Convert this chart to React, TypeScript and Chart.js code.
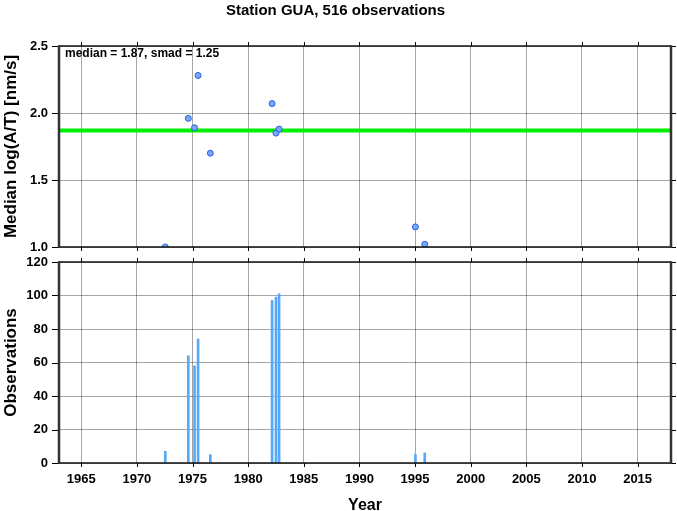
import React, { useEffect, useRef } from 'react';
import { Chart, registerables } from 'chart.js';

Chart.register(...registerables);

const chartTitle = 'Station GUA, 516 observations';
const medianLabel = 'median = 1.87, smad = 1.25';
const yTitleTop = 'Median log(A/T) [nm/s]';
const yTitleBottom = 'Observations';
const xTitle = 'Year';

const years = [1972.55, 1974.62, 1975.18, 1975.5, 1976.6, 1982.15, 1982.5, 1982.78, 1995.03, 1995.87];
const medians = [1.0, 1.96, 1.89, 2.28, 1.7, 2.07, 1.85, 1.88, 1.15, 1.02];
const counts = [7, 64, 58, 74, 5, 97, 99, 101, 5, 6];
const medianValue = 1.87;

const xTicks = [1965, 1970, 1975, 1980, 1985, 1990, 1995, 2000, 2005, 2010, 2015];
const medTicks = [1.0, 1.5, 2.0, 2.5];
const countTicks = [0, 20, 40, 60, 80, 100, 120];
const X_MIN = 1963;
const X_MAX = 2018;

const FONT = '"Liberation Sans", Helvetica, Arial, sans-serif';
const GRID = 'rgba(0,0,0,0.35)';

function makeFramePlugin(tickValsX: number[], tickValsY: number[], withText: boolean) {
  return {
    id: 'frame' + (withText ? 'Top' : 'Bottom'),
    afterDatasetsDraw(chart: any) {
      const { ctx, chartArea } = chart;
      const { left, right, top, bottom } = chartArea;
      const xs = chart.scales.x;
      const ys = chart.scales.y;
      const line = (x1: number, y1: number, x2: number, y2: number) => {
        ctx.beginPath();
        ctx.moveTo(x1, y1);
        ctx.lineTo(x2, y2);
        ctx.stroke();
      };
      ctx.save();
      ctx.strokeStyle = '#000';
      ctx.lineWidth = 1;
      for (const v of tickValsX) {
        const px = Math.round(xs.getPixelForValue(v)) + 0.5;
        line(px, top, px, top - 4);
        line(px, bottom, px, bottom + 4);
      }
      for (const v of tickValsY) {
        const py = Math.round(ys.getPixelForValue(v)) + 0.5;
        line(left - 7, py, left, py);
        line(right, py, right + 5, py);
      }
      ctx.lineWidth = 1.5;
      ctx.strokeStyle = '#111';
      line(left, top, right, top);
      line(left, bottom, right, bottom);
      ctx.lineWidth = 2.5;
      ctx.strokeStyle = '#333';
      line(left, top - 0.75, left, bottom + 0.75);
      line(right, top - 0.75, right, bottom + 0.75);
      if (withText) {
        ctx.fillStyle = '#000';
        ctx.font = 'bold 12px ' + FONT;
        ctx.textAlign = 'left';
        ctx.textBaseline = 'middle';
        ctx.fillText(medianLabel, left + 6, top + 7.5);
      }
      ctx.restore();
    },
  };
}

const setTicks = (vals: number[]) => (scale: any) => {
  scale.ticks = vals.map((value) => ({ value }));
};

const fixY = (scale: any) => {
  scale.width = 59;
  scale.paddingTop = 0;
  scale.paddingBottom = 0;
};

export default function App() {
  const topRef = useRef<HTMLCanvasElement>(null);
  const botRef = useRef<HTMLCanvasElement>(null);

  useEffect(() => {
    const tickFont = { family: FONT, size: 13, weight: 'bold' as const };
    const yTitleFont = { family: FONT, size: 17, weight: 'bold' as const };
    const xTitleFont = { family: FONT, size: 16, weight: 'bold' as const };

    const top = new Chart(topRef.current!, {
      type: 'scatter',
      data: {
        datasets: [
          {
            type: 'scatter',
            data: years.map((x, i) => ({ x, y: medians[i] })),
            pointRadius: 3,
            pointBackgroundColor: '#7aa8f8',
            pointBorderColor: '#2a5de0',
            pointBorderWidth: 1,
            order: 0,
            clip: 0,
          } as any,
          {
            type: 'line',
            data: [
              { x: X_MIN, y: medianValue },
              { x: X_MAX, y: medianValue },
            ],
            borderColor: '#00f000',
            borderWidth: 4,
            pointRadius: 0,
            order: 1,
          } as any,
        ],
      },
      options: {
        animation: false,
        responsive: false,
        maintainAspectRatio: false,
        layout: { padding: { left: 0, right: 6, top: 0, bottom: 0 } },
        plugins: {
          legend: { display: false },
          tooltip: { enabled: false },
          title: {
            display: true,
            text: chartTitle,
            color: '#000',
            font: { family: FONT, size: 15, weight: 'bold' },
            padding: { top: 1.5, bottom: 26.5 },
          },
        },
        scales: {
          x: {
            type: 'linear',
            min: X_MIN,
            max: X_MAX,
            afterBuildTicks: setTicks(xTicks),
            afterFit: (s: any) => {
              s.height = 7;
            },
            ticks: { display: false },
            grid: { color: GRID, drawTicks: false },
            border: { display: false },
          },
          y: {
            type: 'linear',
            min: 1,
            max: 2.5,
            afterBuildTicks: setTicks(medTicks),
            afterFit: fixY,
            ticks: {
              font: tickFont,
              color: '#000',
              padding: 11,
              callback: (v: any) => Number(v).toFixed(1),
            },
            grid: { color: GRID, drawTicks: false },
            border: { display: false },
            title: {
              display: true,
              text: yTitleTop,
              color: '#000',
              font: yTitleFont,
              padding: { top: 1, bottom: 0 },
            },
          },
        },
      } as any,
      plugins: [makeFramePlugin(xTicks, medTicks, true)],
    });

    const bot = new Chart(botRef.current!, {
      type: 'bar',
      data: {
        datasets: [
          {
            data: years.map((x, i) => ({ x, y: counts[i] })),
            backgroundColor: '#55a8fa',
            borderWidth: 0,
            barThickness: 2,
          } as any,
        ],
      },
      options: {
        animation: false,
        responsive: false,
        maintainAspectRatio: false,
        layout: { padding: { left: 0, right: 6, top: 8, bottom: 0 } },
        plugins: {
          legend: { display: false },
          tooltip: { enabled: false },
        },
        scales: {
          x: {
            type: 'linear',
            min: X_MIN,
            max: X_MAX,
            offset: false,
            afterBuildTicks: setTicks(xTicks),
            afterFit: (s: any) => {
              s.height = 48;
            },
            ticks: {
              font: tickFont,
              color: '#000',
              padding: 9,
              maxRotation: 0,
              autoSkip: false,
              callback: (v: any) => String(v),
            },
            grid: { color: GRID, drawTicks: false, offset: false },
            border: { display: false },
            title: {
              display: true,
              text: xTitle,
              color: '#000',
              font: xTitleFont,
              padding: { top: 0, bottom: -4 },
            },
          },
          y: {
            type: 'linear',
            min: 0,
            max: 120,
            afterBuildTicks: setTicks(countTicks),
            afterFit: fixY,
            ticks: {
              font: tickFont,
              color: '#000',
              padding: 11,
              callback: (v: any) => String(v),
            },
            grid: { color: GRID, drawTicks: false },
            border: { display: false },
            title: {
              display: true,
              text: yTitleBottom,
              color: '#000',
              font: yTitleFont,
              padding: { top: 1, bottom: 0 },
            },
          },
        },
      } as any,
      plugins: [makeFramePlugin(xTicks, countTicks, false)],
    });

    return () => {
      top.destroy();
      bot.destroy();
    };
  }, []);

  return (
    <div style={{ position: 'absolute', left: 0, top: 0, width: 677, height: 511, background: '#fff' }}>
      <canvas
        ref={topRef}
        width={677}
        height={254}
        style={{ position: 'absolute', left: 0, top: 0, width: 677, height: 254, display: 'block' }}
      />
      <canvas
        ref={botRef}
        width={677}
        height={257}
        style={{ position: 'absolute', left: 0, top: 254, width: 677, height: 257, display: 'block' }}
      />
    </div>
  );
}
